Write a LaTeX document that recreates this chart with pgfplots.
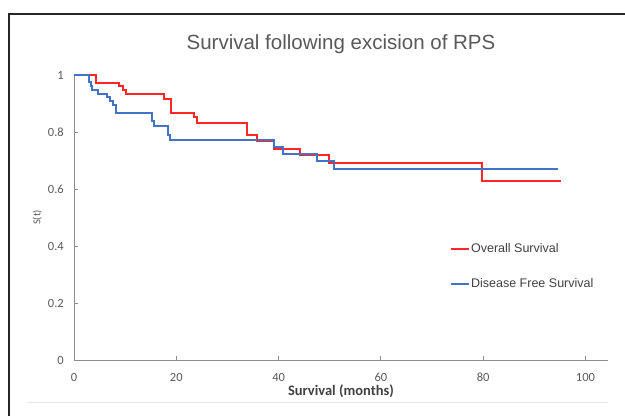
\documentclass[border=0pt]{standalone}
\usepackage{fontspec}
\setmainfont{Carlito}
\newfontfamily\legfont{Liberation Sans}
\usepackage{pgfplots}
\pgfplotsset{compat=1.18}

\definecolor{osred}{HTML}{FF2626}
\definecolor{dfsblue}{HTML}{4472C4}
\definecolor{axisgray}{HTML}{8C8C8C}
\definecolor{labelgray}{HTML}{595959}
\definecolor{textdark}{HTML}{404040}

\begin{document}
\begin{tikzpicture}[x=1pt,y=1pt]
\useasboundingbox (0,0) rectangle (625,416);
% outer chart frame
\draw[line width=1.3pt, color=black!85] (9,0) -- (9,402) -- (625,402);
\draw[line width=0.6pt, color=black!10] (28,14) -- (608,14);

\begin{axis}[
  at={(74pt,56pt)}, anchor=south west,
  scale only axis,
  width=534pt, height=285pt,
  xmin=0, xmax=104.4, ymin=0, ymax=1,
  axis x line=bottom, axis y line=left,
  axis line style={draw=axisgray, line width=0.8pt, -},
  xtick={0,20,40,60,80,100},
  ytick={0,0.2,0.4,0.6,0.8,1},
  tick align=inside,
  major tick length=4pt,
  tick style={draw=axisgray, line width=0.8pt},
  /pgf/number format/assume math mode=true,
  ticklabel style={font=\fontsize{12.5}{14}\selectfont, color=labelgray},
  xticklabel style={inner sep=0pt, anchor=center, yshift=-17pt},
  yticklabel style={inner sep=0pt, anchor=east, xshift=-10pt},
  title={\legfont Survival following excision of RPS},
  title style={font=\fontsize{20.5}{24}\selectfont, color=labelgray,
    at={(axis description cs:0.5,1)}, anchor=center, yshift=25pt},
  xlabel={\textbf{Survival (months)}},
  xlabel style={font=\fontsize{14.5}{17}\selectfont, color=textdark,
    at={(axis description cs:0.5,0)}, anchor=center, yshift=-31pt},
  ylabel={S(t)},
  ylabel style={font=\fontsize{10.5}{12}\selectfont, color=labelgray,
    at={(axis description cs:-0.069,0.5)}, anchor=center},
  legend cell align=left,
  legend style={draw=none, fill=none, inner sep=0pt,
    at={(axis description cs:0.704,0.412)}, anchor=north west,
    font=\legfont\fontsize{12.5}{14}\selectfont, text=textdark,
    row sep=22pt, nodes={inner sep=1pt}},
  legend image code/.code={\draw[#1] (0pt,0pt) -- (18pt,0pt);},
  clip=false,
]
% Overall survival (Kaplan-Meier steps)
\addplot[const plot, color=osred, line width=2pt] coordinates {
  (0,1) (4.3,0.973) (8.8,0.960) (9.5,0.946) (10.2,0.932)
  (17.6,0.915) (19.0,0.868) (23.5,0.851) (24.1,0.833)
  (33.8,0.790) (35.7,0.767) (39.1,0.741) (44.1,0.718)
  (49.9,0.690) (79.8,0.627) (95.3,0.627)
};
\addlegendentry{Overall Survival}
% Disease free survival
\addplot[const plot, color=dfsblue, line width=2pt] coordinates {
  (0,1) (2.9,0.977) (3.3,0.960) (3.6,0.946) (4.6,0.934)
  (6.5,0.922) (7.1,0.908) (7.7,0.895) (8.2,0.867)
  (15.2,0.837) (15.7,0.821) (18.3,0.790) (18.8,0.773)
  (39.1,0.749) (40.8,0.723) (47.6,0.698) (50.9,0.671)
  (94.6,0.671)
};
\addlegendentry{Disease Free Survival}
\end{axis}
\end{tikzpicture}
\end{document}
